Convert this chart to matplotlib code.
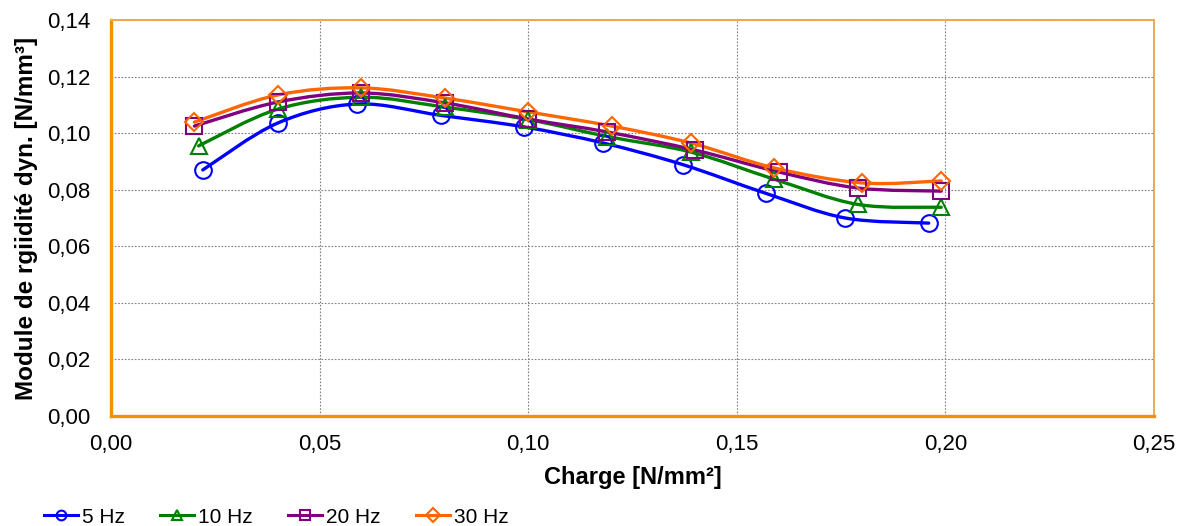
import matplotlib
matplotlib.use("Agg")
import matplotlib.pyplot as plt
from matplotlib.lines import Line2D
from matplotlib.patches import PathPatch
from matplotlib.path import Path
from matplotlib.ticker import FuncFormatter

plt.rcParams["font.family"] = ["Liberation Sans", "DejaVu Sans"]

# charge [N/mm²] per series (slightly shifted as in the source sheet)
X_5HZ = [0.022, 0.040, 0.059, 0.079, 0.099, 0.118, 0.137, 0.157, 0.176, 0.196]
X_10HZ = [0.021, 0.040, 0.060, 0.080, 0.100, 0.119, 0.139, 0.159, 0.179, 0.199]
X_20HZ = [0.020, 0.040, 0.060, 0.080, 0.100, 0.119, 0.140, 0.160, 0.179, 0.199]
X_30HZ = [0.020, 0.040, 0.060, 0.080, 0.100, 0.120, 0.139, 0.159, 0.180, 0.199]

# dynamic stiffness modulus [N/mm³]
Y_5HZ = [0.0870, 0.1036, 0.1103, 0.1063, 0.1022, 0.0965, 0.0889, 0.0787, 0.0700, 0.0682]
Y_10HZ = [0.0955, 0.1085, 0.1127, 0.1092, 0.1048, 0.0988, 0.0933, 0.0837, 0.0748, 0.0738]
Y_20HZ = [0.1025, 0.1110, 0.1142, 0.1107, 0.1050, 0.1004, 0.0940, 0.0863, 0.0806, 0.0795]
Y_30HZ = [0.1039, 0.1135, 0.1160, 0.1124, 0.1075, 0.1025, 0.0965, 0.0877, 0.0824, 0.0831]

LABELS = ["5 Hz", "10 Hz", "20 Hz", "30 Hz"]
COLORS = ["#0000FF", "#008000", "#800080", "#FF6600"]
MARKERS = ["o", "^", "s", "D"]
MSIZES = [12, 12, 11.5, 9.5]

X_TICKS = [0.00, 0.05, 0.10, 0.15, 0.20, 0.25]
Y_TICKS = [0.00, 0.02, 0.04, 0.06, 0.08, 0.10, 0.12, 0.14]


def smooth_path(xs, ys):
    """Excel-like smoothed line: cubic Bezier through the points."""
    pts = list(zip(xs, ys))
    n = len(pts)
    verts = [pts[0]]
    codes = [Path.MOVETO]
    for i in range(n - 1):
        p0 = pts[i - 1] if i > 0 else pts[i]
        p1 = pts[i]
        p2 = pts[i + 1]
        p3 = pts[i + 2] if i + 2 < n else pts[i + 1]
        c1 = (p1[0] + (p2[0] - p0[0]) / 6, p1[1] + (p2[1] - p0[1]) / 6)
        c2 = (p2[0] - (p3[0] - p1[0]) / 6, p2[1] - (p3[1] - p1[1]) / 6)
        verts += [c1, c2, p2]
        codes += [Path.CURVE4] * 3
    return Path(verts, codes)


def main():
    fig = plt.figure(figsize=(11.84, 5.26), dpi=100, facecolor="white")
    ax = fig.add_axes([111 / 1184, 1 - 416 / 526, (1154 - 111) / 1184, (416 - 20) / 526])

    series = [(X_5HZ, Y_5HZ), (X_10HZ, Y_10HZ), (X_20HZ, Y_20HZ), (X_30HZ, Y_30HZ)]
    handles = []
    for (xs, ys), lab, col, mk, ms in zip(series, LABELS, COLORS, MARKERS, MSIZES):
        ax.add_patch(PathPatch(smooth_path(xs, ys), facecolor="none", edgecolor=col,
                               linewidth=2.4, zorder=3, capstyle="round"))
        ax.plot(xs, ys, linestyle="none", marker=mk, markersize=ms, markerfacecolor="none",
                markeredgecolor=col, markeredgewidth=1.5, zorder=4)
        handles.append(Line2D([], [], color=col, linewidth=2.2, marker=mk, markersize=7,
                              markerfacecolor="none", markeredgecolor=col, markeredgewidth=1.5,
                              label=lab))

    ax.set_xlim(0, 0.25)
    ax.set_ylim(0, 0.14)
    ax.set_xticks(X_TICKS)
    ax.set_yticks(Y_TICKS)
    comma = FuncFormatter(lambda v, _: f"{v:.2f}".replace(".", ","))
    ax.xaxis.set_major_formatter(comma)
    ax.yaxis.set_major_formatter(comma)
    ax.tick_params(axis="both", length=0, labelsize=16, colors="black")
    ax.tick_params(axis="y", pad=15)
    ax.tick_params(axis="x", pad=13)

    ax.grid(True, color="#808080", linestyle=(0, (1.5, 1.5)), linewidth=0.8)
    ax.set_axisbelow(True)

    ax.spines["left"].set_color("#F39200")
    ax.spines["left"].set_linewidth(2.4)
    ax.spines["bottom"].set_color("#F39200")
    ax.spines["bottom"].set_linewidth(2.4)
    for side in ("top", "right"):
        ax.spines[side].set_color("#EEA84C")
        ax.spines[side].set_linewidth(1.4)

    ax.set_xlabel("Charge [N/mm²]", fontsize=17, fontweight="bold", labelpad=8)
    ax.set_ylabel("Module de rgiidité dyn. [N/mm³]", fontsize=17.5, fontweight="bold",
                  labelpad=6)

    fig.legend(handles=handles, loc="lower left", bbox_to_anchor=(0.0215, -0.037), ncol=4,
               frameon=False, handlelength=1.63, handletextpad=0.19, columnspacing=1.7,
               prop={"family": ["Liberation Sans Narrow", "Liberation Sans"], "size": 15})

    fig.savefig("out.png", dpi=100, facecolor="white")
    plt.close(fig)


if __name__ == "__main__":
    main()
